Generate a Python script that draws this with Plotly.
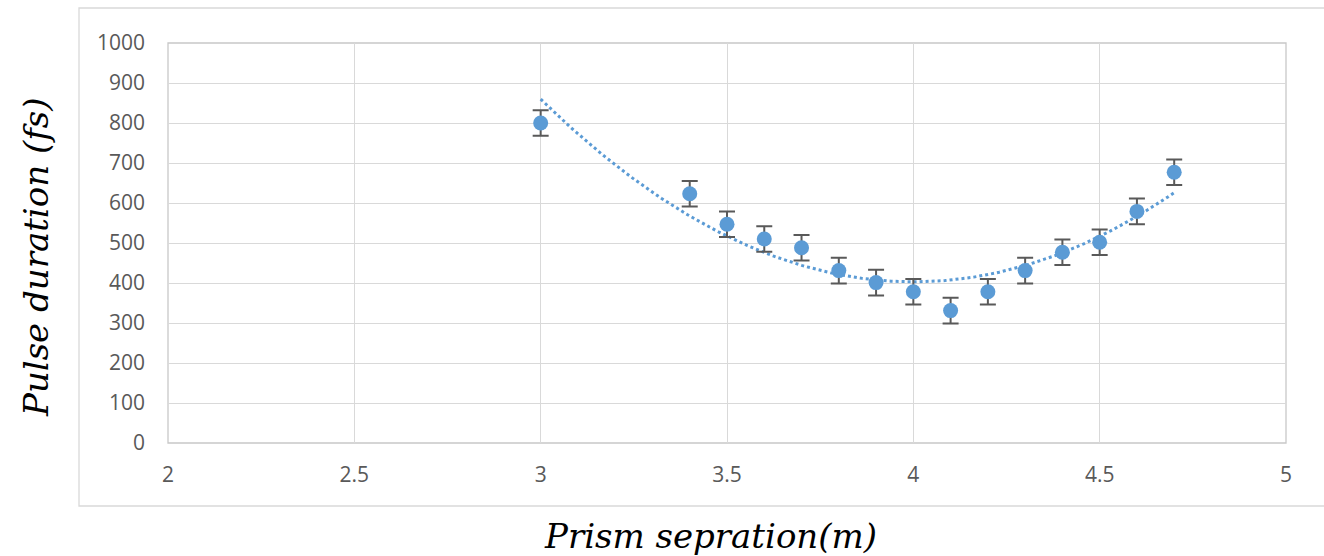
import numpy as np
import plotly.graph_objects as go

# Prism separation (m) and measured pulse duration (fs)
separation = [3.0, 3.4, 3.5, 3.6, 3.7, 3.8, 3.9, 4.0, 4.1, 4.2, 4.3, 4.4, 4.5, 4.6, 4.7]
duration = [800, 623, 547, 510, 488, 431, 401, 378, 331, 378, 431, 477, 502, 579, 677]
duration_err = [32] * len(separation)

x_ticks = [2, 2.5, 3, 3.5, 4, 4.5, 5]
y_ticks = [0, 100, 200, 300, 400, 500, 600, 700, 800, 900, 1000]

BLUE = "#5B9BD5"
GRID = "#D9D9D9"
TICK_FONT = dict(family="Open Sans", size=21, color="#595959")
TITLE_FONT = dict(family="DejaVu Serif", size=34, color="#000000", style="italic")

# second-order polynomial trendline (least squares)
coef = np.polyfit(separation, duration, 2)
fit_x = np.linspace(min(separation), max(separation), 200)
fit_y = np.polyval(coef, fit_x)

fig = go.Figure()
fig.add_trace(go.Scatter(
    x=fit_x, y=fit_y, mode="lines",
    line=dict(color=BLUE, width=3, dash="dot"),
    hoverinfo="skip", showlegend=False,
))
fig.add_trace(go.Scatter(
    x=separation, y=duration, mode="markers",
    marker=dict(color=BLUE, size=15),
    error_y=dict(type="data", array=duration_err, visible=True,
                 color="#595959", thickness=2, width=8),
    showlegend=False,
))

W, H = 1324, 556
L, R, T, B = 168, 1286, 43, 443
pw, ph = R - L, B - T

fig.update_layout(
    width=W, height=H,
    margin=dict(l=L, r=W - R, t=T, b=H - B),
    paper_bgcolor="white", plot_bgcolor="white",
    showlegend=False,
    xaxis=dict(range=[2, 5], tickvals=x_ticks, ticktext=[str(v) for v in x_ticks],
               showgrid=True, gridcolor=GRID, gridwidth=1.3, zeroline=False,
               showline=False, ticks="", tickfont=TICK_FONT, ticklabelstandoff=17),
    yaxis=dict(range=[0, 1000], tickvals=y_ticks,
               showgrid=True, gridcolor=GRID, gridwidth=1.3, zeroline=False,
               showline=False, ticks="", tickfont=TICK_FONT, ticklabelstandoff=22),
    shapes=[
        # outer chart-area frame
        dict(type="rect", xref="paper", yref="paper",
             x0=(79 - L) / pw, x1=(1345 - L) / pw,
             y0=(B - 506) / ph, y1=(B - 8) / ph,
             line=dict(color=GRID, width=1.3), fillcolor="rgba(0,0,0,0)", layer="below"),
        # plot-area frame
        dict(type="rect", xref="paper", yref="paper", x0=0, x1=1, y0=0, y1=1,
             line=dict(color="#C8C8C8", width=1.3), fillcolor="rgba(0,0,0,0)", layer="below"),
    ],
    annotations=[
        dict(text="Prism sepration(m)", xref="paper", yref="paper",
             x=(710 - L) / pw, y=(B - 536) / ph, xanchor="center", yanchor="middle",
             showarrow=False, font=TITLE_FONT),
        dict(text="Pulse duration (fs)", xref="paper", yref="paper",
             x=(36 - L) / pw, y=(B - 258) / ph, xanchor="center", yanchor="middle",
             textangle=-90, showarrow=False, font=TITLE_FONT),
    ],
)

fig.write_html("out.html")
